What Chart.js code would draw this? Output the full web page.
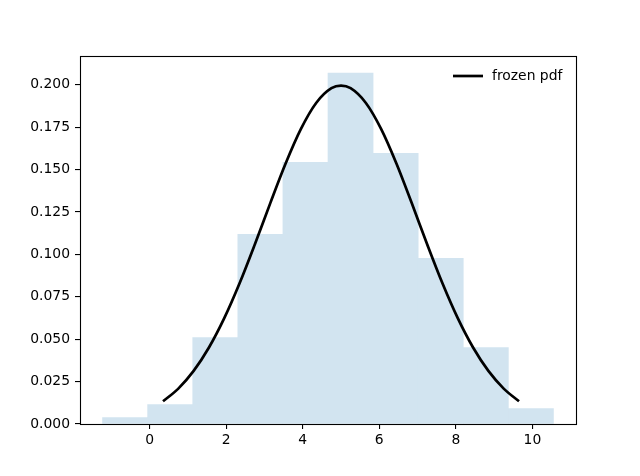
<!DOCTYPE html>
<html>
<head>
<meta charset="utf-8">
<script src="https://cdn.jsdelivr.net/npm/chart.js@4.4.1/dist/chart.umd.min.js"></script>
<style>
  html, body { margin: 0; padding: 0; background: #fff; }
  #wrap { width: 640px; height: 476px; position: relative; }
</style>
</head>
<body>
<div id="wrap"><canvas id="c" width="640" height="476"></canvas></div>
<script>
// Histogram bin edges and densities
const binEdges = [-1.230, -0.052, 1.126, 2.304, 3.482, 4.660, 5.838, 7.016, 8.194, 9.372, 10.550];
const binHeights = [0.0038, 0.0115, 0.0510, 0.1118, 0.1543, 0.2068, 0.1596, 0.0976, 0.0451, 0.0091];

// Frozen pdf curve points
const pdfX = [0.35, 0.75, 1.15, 1.55, 1.95, 2.35, 2.75, 3.15, 3.55, 3.95, 4.35, 4.75, 5.00,
              5.25, 5.65, 6.05, 6.45, 6.85, 7.25, 7.65, 8.05, 8.45, 8.85, 9.25, 9.65];
const pdfY = [0.01337, 0.02086, 0.03128, 0.04506, 0.06236, 0.08292, 0.10594, 0.13005, 0.15338,
              0.17379, 0.18921, 0.19792, 0.19947, 0.19792, 0.18921, 0.17379, 0.15338, 0.13005,
              0.10594, 0.08292, 0.06236, 0.04506, 0.03128, 0.02086, 0.01337];

// Tick labels
const xTicks = [0, 2, 4, 6, 8, 10];
const yTicks = [0, 0.025, 0.05, 0.075, 0.1, 0.125, 0.15, 0.175, 0.2];

const histData = binHeights.map((h, i) => ({ x: (binEdges[i] + binEdges[i + 1]) / 2, y: h }));
const pdfData = pdfX.map((x, i) => ({ x: x, y: pdfY[i] }));

const FONT = { family: "'DejaVu Sans', sans-serif", size: 13.9 };

const frame = {
  id: 'frame',
  afterDatasetsDraw(chart) {
    const a = chart.chartArea, ctx = chart.ctx;
    ctx.save();
    ctx.strokeStyle = '#000';
    ctx.lineWidth = 1.1;
    ctx.strokeRect(Math.round(a.left) + 0.5, Math.round(a.top) + 0.5,
                   Math.round(a.right - a.left), Math.round(a.bottom - a.top));
    ctx.restore();
  }
};

const legendPlugin = {
  id: 'mplLegend',
  afterDraw(chart) {
    const ctx = chart.ctx;
    const ds = chart.data.datasets[1];
    ctx.save();
    ctx.strokeStyle = ds.borderColor;
    ctx.lineWidth = ds.borderWidth;
    ctx.beginPath();
    ctx.moveTo(453, 76);
    ctx.lineTo(483, 76);
    ctx.stroke();
    ctx.fillStyle = '#000';
    ctx.font = FONT.size + 'px ' + FONT.family;
    ctx.textBaseline = 'middle';
    ctx.textAlign = 'left';
    ctx.fillText(ds.label, 492, 76);
    ctx.restore();
  }
};

new Chart(document.getElementById('c'), {
  type: 'bar',
  data: {
    datasets: [
      {
        type: 'bar',
        label: 'histogram',
        data: histData,
        backgroundColor: 'rgb(210,228,240)',
        borderWidth: 0,
        barPercentage: 1.0,
        categoryPercentage: 1.0,
        order: 2
      },
      {
        type: 'line',
        label: 'frozen pdf',
        data: pdfData,
        borderColor: '#000',
        borderWidth: 2.7,
        pointRadius: 0,
        fill: false,
        cubicInterpolationMode: 'monotone',
        order: 1
      }
    ]
  },
  plugins: [frame, legendPlugin],
  options: {
    responsive: false,
    animation: false,
    layout: { padding: { left: 0, right: 64, top: 56, bottom: 0 } },
    plugins: { legend: { display: false }, tooltip: { enabled: false } },
    scales: {
      x: {
        type: 'linear',
        min: -1.819,
        max: 11.139,
        offset: false,
        afterBuildTicks(scale) { scale.ticks = xTicks.map(v => ({ value: v })); },
        afterFit(scale) { scale.height = 52; },
        grid: { display: true, offset: false, drawOnChartArea: false, drawTicks: true, tickLength: 5, color: '#000', lineWidth: 1.1 },
        border: { display: false },
        ticks: { color: '#000', font: FONT, padding: 3, maxRotation: 0, callback: v => String(v) }
      },
      y: {
        type: 'linear',
        min: 0,
        max: 0.2169,
        afterBuildTicks(scale) { scale.ticks = yTicks.map(v => ({ value: v })); },
        afterFit(scale) { scale.width = 80; },
        grid: { display: true, offset: false, drawOnChartArea: false, drawTicks: true, tickLength: 5, color: '#000', lineWidth: 1.1 },
        border: { display: false },
        ticks: { color: '#000', font: FONT, padding: 5, callback: v => v.toFixed(3) }
      }
    }
  }
});
</script>
</body>
</html>
